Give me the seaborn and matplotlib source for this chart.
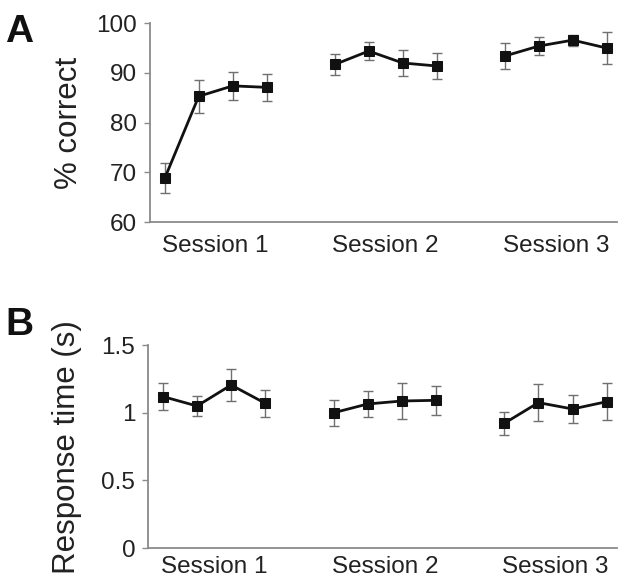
import numpy as np
import pandas as pd
import matplotlib
matplotlib.use("Agg")
import matplotlib.pyplot as plt
import seaborn as sns

sessions = ["Session 1", "Session 2", "Session 3"]
# four blocks per session
acc_mean = [[68.8, 85.3, 87.4, 87.1],
            [91.7, 94.4, 92.0, 91.4],
            [93.4, 95.4, 96.6, 95.0]]
acc_err = [[3.0, 3.3, 2.8, 2.7],
           [2.2, 1.8, 2.6, 2.7],
           [2.6, 1.8, 1.1, 3.3]]
rt_mean = [[1.12, 1.05, 1.205, 1.07],
           [1.00, 1.065, 1.087, 1.092],
           [0.922, 1.075, 1.028, 1.082]]
rt_err = [[0.10, 0.077, 0.12, 0.10],
          [0.095, 0.098, 0.133, 0.105],
          [0.086, 0.135, 0.106, 0.137]]

acc_ticks = [60, 70, 80, 90, 100]
rt_ticks = [0, 0.5, 1, 1.5]
rt_ticklabels = ["0", "0.5", "1", "1.5"]

sns.set_theme(style="white")
plt.rcParams["font.family"] = ["Liberation Sans", "DejaVu Sans"]

def make_df(means, errs):
    rows = []
    for si, s in enumerate(sessions):
        for bi, (m, e) in enumerate(zip(means[si], errs[si])):
            rows.append({"session": s, "pos": si * 5 + bi, "val": m, "err": e})
    return pd.DataFrame(rows)

df_a = make_df(acc_mean, acc_err)
df_b = make_df(rt_mean, rt_err)

fig = plt.figure(figsize=(6.4, 5.8), dpi=100)
ax_a = fig.add_axes([0.234, 0.617, 0.730, 0.343])
ax_b = fig.add_axes([0.231, 0.055, 0.733, 0.350])

grey = "#8a8a8a"
for ax, df, ylim, ticks, tlabels, ylabel, xpad in [
    (ax_a, df_a, (60, 100), acc_ticks, [str(t) for t in acc_ticks], "% correct", 9),
    (ax_b, df_b, (0, 1.5), rt_ticks, rt_ticklabels, "Response time (s)", 6),
]:
    ax.errorbar(df["pos"], df["val"], yerr=df["err"], fmt="none",
                ecolor="#707070", elinewidth=1.0, capsize=3.5, capthick=1.0, zorder=2)
    sns.lineplot(data=df, x="pos", y="val", units="session", estimator=None,
                 color="#111111", linewidth=2.0, marker="s", markersize=7.5,
                 markeredgecolor="#111111", ax=ax, zorder=3, legend=False)
    ax.set_xlim(-0.44, 13.3)
    ax.set_ylim(*ylim)
    ax.set_yticks(ticks)
    ax.set_yticklabels(tlabels)
    ax.set_xticks([1.5, 6.5, 11.5])
    ax.set_xticklabels(sessions)
    ax.set_xlabel("")
    ax.set_ylabel(ylabel, fontsize=22.5, color="#222222")
    ax.yaxis.set_label_coords(-0.141, 0.5)
    for sp in ["top", "right"]:
        ax.spines[sp].set_visible(False)
    for sp in ["left", "bottom"]:
        ax.spines[sp].set_color(grey)
        ax.spines[sp].set_linewidth(1.3)
    ax.tick_params(axis="y", length=4, width=1, color=grey, pad=5,
                   labelsize=17.5, labelcolor="#222222", left=True)
    ax.tick_params(axis="x", length=0, pad=xpad, labelsize=17.5, labelcolor="#222222")
    ax.set_facecolor("white")

fig.text(0.008, 0.945, "A", fontsize=28, fontweight="bold", color="#111111", va="center")
fig.text(0.008, 0.44, "B", fontsize=28, fontweight="bold", color="#111111", va="center")

fig.savefig("out.png", dpi=100, facecolor="white")
